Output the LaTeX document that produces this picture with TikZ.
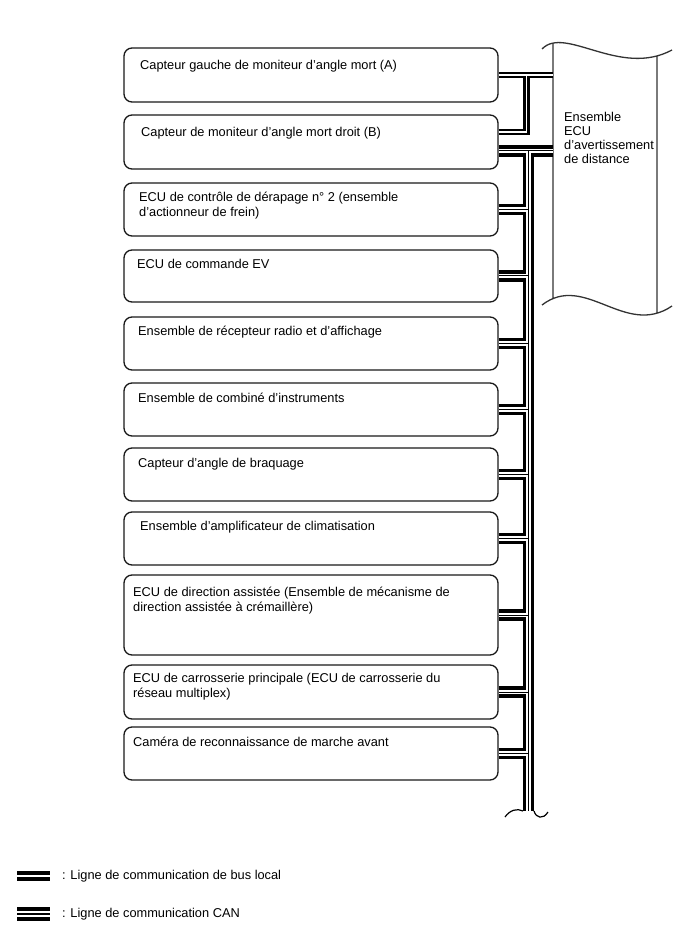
\documentclass[tikz,border=0pt]{standalone}
\usepackage{fontspec}
\setmainfont{Liberation Sans}
\usetikzlibrary{calc}

\tikzset{
  boite/.style={draw=black!90, line width=1.3pt, rounded corners=8pt, fill=white, minimum width=374pt, inner sep=0pt},
  txt/.style={anchor=north west, inner sep=0pt, align=left, font=\fontsize{12.8}{15}\selectfont, execute at begin node=\strut},
  lbus/.style={draw, line width=2.7pt, double=white, double distance=1.5pt},
  canbus/.style={draw, line width=11.3pt, postaction={draw=white, line width=4.7pt}, postaction={draw=black, line width=1pt}},
  lbuslg/.style={draw, line width=4pt, double=white, double distance=1.7pt},
  canlg/.style={draw, line width=14.3pt, postaction={draw=white, line width=6.3pt}, postaction={draw=black, line width=2pt}},
  eculine/.style={draw=black!80, line width=1.3pt},
  brk/.style={line width=1.2pt},
}

\begin{document}
\begin{tikzpicture}[x=1pt, y=-1pt]
  \useasboundingbox (0,0) rectangle (688,949);

  \node[boite, minimum height=54pt] (bsmA)     at (311,75)    {};
  \node[boite, minimum height=54pt] (bsmB)     at (311,142)   {};
  \node[boite, minimum height=53pt] (vsc)      at (311,209.5) {};
  \node[boite, minimum height=52pt] (evecu)    at (311,276)   {};
  \node[boite, minimum height=53pt] (radio)    at (311,343.5) {};
  \node[boite, minimum height=53pt] (combi)    at (311,409.5) {};
  \node[boite, minimum height=53pt] (steer)    at (311,474.5) {};
  \node[boite, minimum height=53pt] (aircon)   at (311,538.5) {};
  \node[boite, minimum height=80pt] (eps)      at (311,615)   {};
  \node[boite, minimum height=54pt] (mainbody) at (311,692)   {};
  \node[boite, minimum height=53pt] (fcam)     at (311,753.5) {};

  \node[txt] (bsmAt)     at (140,59)  {Capteur gauche de moniteur d'angle mort (A)};
  \node[txt] (bsmBt)     at (141,126) {Capteur de moniteur d'angle mort droit (B)};
  \node[txt] (vsct)      at (139,192) {ECU de contrôle de dérapage n° 2 (ensemble\\d'actionneur de frein)};
  \node[txt] (evecut)    at (137,258) {ECU de commande EV};
  \node[txt] (radiot)    at (138,325) {Ensemble de récepteur radio et d'affichage};
  \node[txt] (combit)    at (138,392) {Ensemble de combiné d'instruments};
  \node[txt] (steert)    at (138,457) {Capteur d'angle de braquage};
  \node[txt] (aircont)   at (140,520) {Ensemble d'amplificateur de climatisation};
  \node[txt] (epst)      at (133,587) {ECU de direction assistée (Ensemble de mécanisme de\\direction assistée à crémaillère)};
  \node[txt] (mainbodyt) at (133,673) {ECU de carrosserie principale (ECU de carrosserie du\\réseau multiplex)};
  \node[txt] (fcamt)     at (133,736) {Caméra de reconnaissance de marche avant};

  \node[minimum width=104pt, minimum height=256pt, inner sep=0pt] (ecu) at (605,172) {};
  \draw[eculine] (542,49) .. controls (565,25) and (620,78) .. (672,50)
                 (553,43.5) -- (553,299)
                 (657,56) -- (657,312.5)
                 (542,305) .. controls (585,272) and (625,338) .. (672,306);
  \node[txt, font=\fontsize{12.8}{14}\selectfont] (ecut) at (564,112) {Ensemble\\ECU\\d'avertissement\\de distance};

  \coordinate (lbusX)  at (526.5,75);
  \coordinate (canTop) at (528.5,151);
  \coordinate (canEnd) at (528.5,811);

  \draw[lbus] (bsmA.east) -- (bsmA.east -| ecu.west)
              ([yshift=10pt]bsmB.east) -- ([yshift=10pt]bsmB.east -| lbusX) -- (lbusX);
  \draw[canbus] ([yshift=-9pt]bsmB.east) -- ([yshift=-9pt]bsmB.east -| ecu.west)
                (canTop) -- (canEnd)
                foreach \b in {vsc,evecu,radio,combi,steer,aircon,eps,mainbody,fcam}{(\b.east) -- (\b.east -| canTop)};
  \draw[brk] (505,817) .. controls (510,810) and (517,808) .. (523,811)
             (534,811) .. controls (536,818) and (543,820) .. (548,812);

  \node[txt, anchor=west, execute at begin node={}] (leglocal) at (62,876) {: Ligne de communication de bus local};
  \node[txt, anchor=west, execute at begin node={}] (legcan)   at (62,914) {: Ligne de communication CAN};
  \draw[lbuslg] ([xshift=-45pt]leglocal.west) -- ([xshift=-12pt]leglocal.west);
  \draw[canlg]  ([xshift=-45pt]legcan.west) -- ([xshift=-12pt]legcan.west);
\end{tikzpicture}
\end{document}
